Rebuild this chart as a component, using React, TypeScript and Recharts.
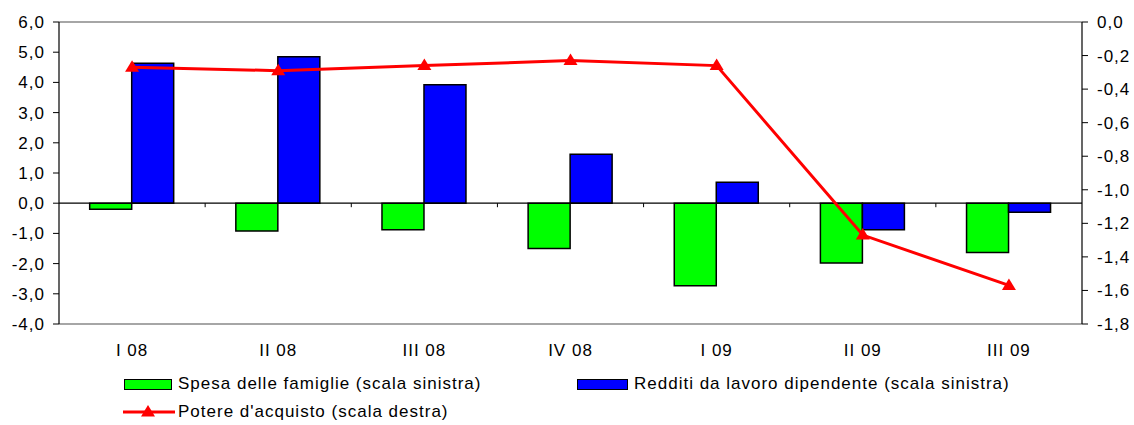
import React from "react";
import { ComposedChart, Bar, Line, XAxis, YAxis, ReferenceLine, Legend } from "recharts";

const categories = ["I 08", "II 08", "III 08", "IV 08", "I 09", "II 09", "III 09"];
const spesaFamiglie = [-0.2, -0.92, -0.88, -1.5, -2.73, -1.98, -1.63];
const redditiLavoro = [4.63, 4.85, 3.92, 1.62, 0.69, -0.88, -0.3];
const potereAcquisto = [-0.27, -0.29, -0.26, -0.23, -0.26, -1.27, -1.57];

const leftTicks = [-4, -3, -2, -1, 0, 1, 2, 3, 4, 5, 6];
const rightTicks = [-1.8, -1.6, -1.4, -1.2, -1.0, -0.8, -0.6, -0.4, -0.2, 0];

const FONT = "Arial, 'Liberation Sans', sans-serif";
const fmt = (v: number) => v.toFixed(1).replace(".", ",");

const data = categories.map((c, i) => ({
    name: c,
    spesa: spesaFamiglie[i],
    redditi: redditiLavoro[i],
    potere: potereAcquisto[i],
}));

// red triangle marker
const Triangle = (props: any) => {
    const { cx, cy } = props;
    if (cx == null || cy == null) return null;
    return <path d={`M${cx},${cy - 7} L${cx + 7},${cy + 4.5} L${cx - 7},${cy + 4.5} Z`} fill="#FF0000" />;
};

// zero line with small ticks between the categories
const ZeroAxis = (props: any) => {
    const { x1, x2, y1 } = props;
    if (x1 == null) return null;
    const n = categories.length;
    const step = (x2 - x1) / n;
    return (
        <g>
            <line x1={x1} x2={x2} y1={y1} y2={y1} stroke="#000" strokeWidth={1.2} />
            {categories.slice(1).map((_, i) => (
                <line key={i} x1={x1 + step * (i + 1)} x2={x1 + step * (i + 1)} y1={y1} y2={y1 + 4} stroke="#000" strokeWidth={1} />
            ))}
        </g>
    );
};

const legendText: React.CSSProperties = {
    position: "absolute",
    fontFamily: FONT,
    fontSize: 17,
    letterSpacing: 1,
    color: "#000",
    lineHeight: "20px",
    whiteSpace: "nowrap",
};

const CustomLegend = () => (
    <div style={{ position: "relative", width: 1134, height: 64 }}>
        <div style={{ position: "absolute", left: 124, top: 18, width: 46, height: 9, background: "#00FF00", border: "1.5px solid #000" }} />
        <div style={{ ...legendText, top: 13, left: 178 }}>Spesa delle famiglie (scala sinistra)</div>
        <div style={{ position: "absolute", left: 577, top: 18, width: 49, height: 9, background: "#0000FF", border: "1.5px solid #000" }} />
        <div style={{ ...legendText, top: 13, left: 634 }}>Redditi da lavoro dipendente (scala sinistra)</div>
        <svg style={{ position: "absolute", left: 120, top: 40 }} width={60} height={20}>
            <line x1={3} x2={55} y1={11} y2={11} stroke="#FF0000" strokeWidth={3} />
            <path d="M28,4 L35,15.5 L21,15.5 Z" fill="#FF0000" />
        </svg>
        <div style={{ ...legendText, top: 41, left: 178 }}>Potere d'acquisto (scala destra)</div>
    </div>
);

const tickStyle = { fill: "#000", fontSize: 17, fontFamily: FONT, letterSpacing: 1 };

export default function App() {
    return (
        <div style={{ position: "absolute", left: 0, top: 0, width: 1134, height: 425, background: "#fff" }}>
            <ComposedChart
                width={1134}
                height={425}
                data={data}
                margin={{ top: 22, right: 0, bottom: 0, left: 0 }}
                barCategoryGap="21%"
                barGap={0}
            >
                <XAxis
                    dataKey="name"
                    axisLine={false}
                    tickLine={false}
                    tickSize={8}
                    tickMargin={12}
                    height={37}
                    tick={tickStyle}
                    interval={0}
                />
                <YAxis
                    yAxisId="left"
                    orientation="left"
                    width={59}
                    domain={[-4, 6]}
                    ticks={leftTicks}
                    tickFormatter={fmt}
                    axisLine={{ stroke: "#000", strokeWidth: 1.2 }}
                    tickLine={{ stroke: "#000" }}
                    tickSize={6}
                    tickMargin={8}
                    tick={tickStyle}
                    interval={0}
                />
                <YAxis
                    yAxisId="right"
                    orientation="right"
                    width={52}
                    domain={[-1.8, 0]}
                    ticks={rightTicks}
                    tickFormatter={fmt}
                    axisLine={{ stroke: "#000", strokeWidth: 1.2 }}
                    tickLine={{ stroke: "#000" }}
                    tickSize={6}
                    tickMargin={9}
                    tick={tickStyle}
                    interval={0}
                />
                <ReferenceLine yAxisId="left" y={6} stroke="#888" strokeWidth={1.5} />
                <ReferenceLine yAxisId="left" y={-4} stroke="#888" strokeWidth={1.5} />
                <Legend verticalAlign="bottom" content={<CustomLegend />} wrapperStyle={{ left: 0, width: 1134 }} />
                <Bar yAxisId="left" dataKey="spesa" fill="#00FF00" stroke="#000" strokeWidth={1.5} isAnimationActive={false} />
                <Bar yAxisId="left" dataKey="redditi" fill="#0000FF" stroke="#000" strokeWidth={1.5} isAnimationActive={false} />
                <ReferenceLine yAxisId="left" y={0} shape={<ZeroAxis />} />
                <Line
                    yAxisId="right"
                    dataKey="potere"
                    stroke="#FF0000"
                    strokeWidth={3}
                    dot={<Triangle />}
                    activeDot={false}
                    isAnimationActive={false}
                />
            </ComposedChart>
        </div>
    );
}
